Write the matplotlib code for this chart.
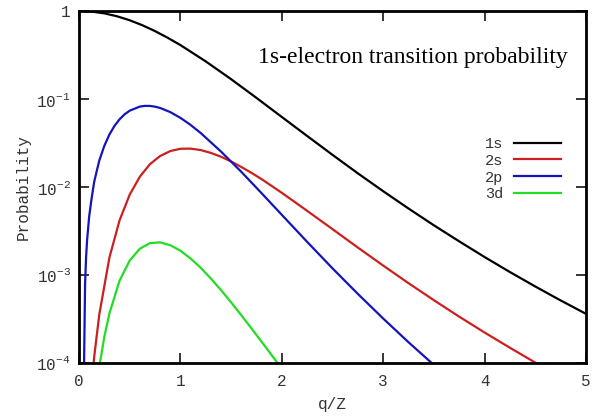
import numpy as np
import matplotlib
matplotlib.use('Agg')
import matplotlib.pyplot as plt
from matplotlib.ticker import FixedLocator, FixedFormatter, NullLocator

# values (q/Z, probability)
q_1s = [0, 0.125, 0.25, 0.375, 0.5, 0.625, 0.75, 0.875, 1.0, 1.25, 1.5, 1.75,
        2.0, 2.25, 2.5, 2.75, 3.0, 3.25, 3.5, 3.75, 4.0, 4.25, 4.5, 4.75, 5.0]
p_1s = [1.0, 0.9845, 0.940, 0.871, 0.785, 0.689, 0.591, 0.496, 0.410, 0.2675,
        0.168, 0.103, 0.0625, 0.038, 0.0232, 0.0143, 0.00896, 0.00569, 0.00367,
        0.00241, 0.0016, 0.00108, 0.00074, 0.000514, 0.000362]

q_2s = [0.1, 0.15, 0.2, 0.3, 0.4, 0.5, 0.6, 0.7, 0.8, 0.9, 1.0, 1.1, 1.2, 1.3,
        1.4, 1.5, 1.6, 1.7, 1.8, 2.0, 2.25, 2.5, 2.75, 3.0, 3.25, 3.5, 3.75,
        4.0, 4.25, 4.5, 4.75]
p_2s = [2.4e-5, 1.18e-4, 3.55e-4, 1.58e-3, 4.18e-3, 8.19e-3, 0.0131, 0.0182,
        0.0225, 0.0256, 0.0272, 0.0273, 0.0263, 0.0244, 0.0221, 0.0195, 0.0169,
        0.0145, 0.0123, 8.59e-3, 5.36e-3, 3.32e-3, 2.05e-3, 1.28e-3, 8.07e-4,
        5.17e-4, 3.36e-4, 2.22e-4, 1.49e-4, 1.01e-4, 7.0e-5]

q_2p = [0.045, 0.05, 0.06, 0.07, 0.08, 0.1, 0.125, 0.15, 0.2, 0.25, 0.3, 0.35,
        0.4, 0.45, 0.5, 0.6, 0.65, 0.7, 0.75, 0.8, 0.9, 1.0, 1.1, 1.2, 1.4, 1.6,
        1.8, 2.0, 2.25, 2.5, 2.75, 3.0, 3.25, 3.5, 3.6]
p_2p = [5e-5, 1.0e-4, 8e-4, 1.6e-3, 2.5e-3, 4.6e-3, 7.5e-3, 0.0115, 0.0200,
        0.0294, 0.0395, 0.0495, 0.0588, 0.0670, 0.0737, 0.0820, 0.0835, 0.0834,
        0.0818, 0.0791, 0.0710, 0.0611, 0.0508, 0.0411, 0.0253, 0.0149, 8.52e-3,
        4.83e-3, 2.38e-3, 1.19e-3, 6.1e-4, 3.2e-4, 1.72e-4, 9.5e-5, 7.5e-5]

q_3d = [0.2, 0.25, 0.3, 0.4, 0.5, 0.6, 0.7, 0.8, 0.9, 1.0, 1.1, 1.2, 1.3, 1.4,
        1.5, 1.6, 1.7, 1.8, 1.9, 2.0]
p_3d = [9.0e-5, 1.99e-4, 3.66e-4, 8.62e-4, 1.46e-3, 1.99e-3, 2.30e-3, 2.35e-3,
        2.18e-3, 1.89e-3, 1.54e-3, 1.21e-3, 9.13e-4, 6.75e-4, 4.89e-4, 3.50e-4,
        2.48e-4, 1.75e-4, 1.23e-4, 8.6e-5]

x_ticks = [0, 1, 2, 3, 4, 5]
y_ticks = [1e-4, 1e-3, 1e-2, 1e-1, 1]
y_labels = [r'$\mathregular{10^{-4}}$', r'$\mathregular{10^{-3}}$',
            r'$\mathregular{10^{-2}}$', r'$\mathregular{10^{-1}}$', '1']

plt.rcParams['font.family'] = ['Liberation Mono', 'DejaVu Sans']

fig = plt.figure(figsize=(5.95, 4.18), dpi=100)
ax = fig.add_axes([79/595, 1 - 363/418, 507/595, 352/418])

ax.plot(q_1s, p_1s, color='black', lw=1.6, label='1s')
ax.plot(q_2s, p_2s, color='#cc1f1f', lw=1.6, label='2s')
ax.plot(q_2p, p_2p, color='#1414bb', lw=1.6, label='2p')
ax.plot(q_3d, p_3d, color='#22dd22', lw=1.6, label='3d')

ax.set_yscale('log')
ax.set_xlim(0, 5)
ax.set_ylim(1e-4, 1)
ax.xaxis.set_major_locator(FixedLocator(x_ticks))
ax.yaxis.set_major_locator(FixedLocator(y_ticks))
ax.yaxis.set_major_formatter(FixedFormatter(y_labels))
ax.yaxis.set_minor_locator(NullLocator())

for s in ax.spines.values():
    s.set_linewidth(2)
ax.tick_params(which='major', direction='in', length=7.5, width=1.1,
               top=True, right=True, labelsize=11.5, labelcolor='#333333')
ax.tick_params(axis='x', pad=8)
ax.tick_params(axis='y', pad=6)

ax.set_xlabel('q/Z', fontsize=11.5, color='#333333', labelpad=6)
ax.set_ylabel('Probability', fontsize=11.5, color='#333333', labelpad=4)

ax.text(258/595, 1 - 57/418, '1s-electron transition probability',
        transform=fig.transFigure, fontsize=17, family='Liberation Serif',
        va='center', ha='left')

leg = ax.legend(loc='upper right', bbox_to_anchor=(0.951, 0.642), frameon=False,
                markerfirst=False, fontsize=11, handlelength=3.1,
                handletextpad=0.7, labelspacing=0.18, borderpad=0,
                borderaxespad=0)
for t in leg.get_texts():
    t.set_color('#333333')

fig.savefig('out.png', dpi=100)
